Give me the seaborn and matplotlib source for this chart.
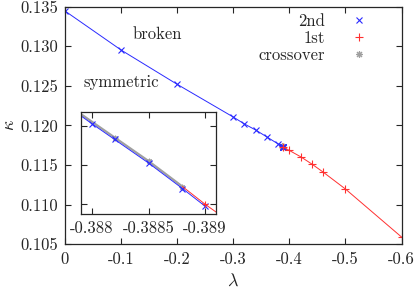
import numpy as np
import pandas as pd
import matplotlib
matplotlib.use("Agg")
import matplotlib.pyplot as plt
import seaborn as sns
from matplotlib.lines import Line2D

sns.set_style("ticks")
plt.rcParams["font.family"] = ["cmr10", "DejaVu Serif"]
plt.rcParams["mathtext.fontset"] = "cm"
plt.rcParams["axes.unicode_minus"] = False
plt.rcParams["axes.formatter.use_mathtext"] = True

# data
lam_2nd = [0.0, -0.1, -0.2, -0.3, -0.32, -0.34, -0.36, -0.38,
           -0.388, -0.3882, -0.3885, -0.3888, -0.389]
kap_2nd = [0.13446, 0.12953, 0.12520, 0.12107, 0.12019, 0.11943, 0.11855, 0.11767,
           0.117341, 0.117333, 0.117321, 0.117308, 0.117299]

# first point of the 1st-order line is where it leaves the crossover line (no marker)
lam_1st = [-0.3888, -0.389, -0.4, -0.42, -0.44, -0.46, -0.5, -0.6]
kap_1st = [0.117309, 0.117300, 0.11685, 0.11606, 0.11514, 0.11413, 0.11198, 0.10592]

lam_cross = [-0.3875, -0.3882, -0.3885, -0.3888]
kap_cross = [0.117362, 0.117334, 0.117322, 0.117309]

main_xticks = [0, -0.1, -0.2, -0.3, -0.4, -0.5, -0.6]
main_xlabels = ["0", "-0.1", "-0.2", "-0.3", "-0.4", "-0.5", "-0.6"]
main_yticks = [0.105, 0.110, 0.115, 0.120, 0.125, 0.130, 0.135]
main_ylabels = ["0.105", "0.110", "0.115", "0.120", "0.125", "0.130", "0.135"]
inset_xticks = [-0.388, -0.3885, -0.389]
inset_xlabels = ["-0.388", "-0.3885", "-0.389"]
inset_yticks = [0.11730, 0.11732, 0.11734]

df2 = pd.DataFrame({"lam": lam_2nd, "kap": kap_2nd})
df1 = pd.DataFrame({"lam": lam_1st, "kap": kap_1st})
dfc = pd.DataFrame({"lam": lam_cross, "kap": kap_cross})

blue = "#2a2aff"
red = "#ff3030"
gray = "#a0a0a0"
fs = 12

fig = plt.figure(figsize=(4.15, 2.9), dpi=100)
ax = fig.add_axes([0.1566, 0.1576, 0.8109, 0.8193])


def draw(a, ms):
    sns.lineplot(data=dfc, x="lam", y="kap", ax=a, color=gray, lw=1.6, sort=False,
                 marker=(8, 2, 0), ms=ms, mew=0.8, mec=gray)
    sns.lineplot(data=df2, x="lam", y="kap", ax=a, color=blue, lw=0.7, sort=False,
                 marker="x", ms=ms, mew=0.8, mec=blue)
    sns.lineplot(data=df1, x="lam", y="kap", ax=a, color=red, lw=0.7, sort=False,
                 marker="+", ms=ms + 1, mew=0.8, mec=red,
                 markevery=list(range(1, len(lam_1st))))


draw(ax, 5)
ax.set_xlim(0, -0.6)
ax.set_ylim(0.105, 0.135)
ax.set_xticks(main_xticks, main_xlabels)
ax.set_yticks(main_yticks, main_ylabels)
ax.tick_params(direction="in", length=4.5, width=0.8, top=True, right=True,
               labelsize=fs, pad=5)
for s in ax.spines.values():
    s.set_linewidth(0.9)
ax.set_xlabel(r"$\lambda$", fontsize=fs + 1, labelpad=4)
ax.set_ylabel(r"$\kappa$", fontsize=fs + 1, labelpad=2)

ax.text(-0.164, 0.13155, "broken", fontsize=fs, ha="center", va="center")
ax.text(-0.1, 0.12548, "symmetric", fontsize=fs, ha="center", va="center")

handles = [
    Line2D([], [], ls="none", marker="x", color=blue, ms=5, mew=0.8),
    Line2D([], [], ls="none", marker="+", color=red, ms=6, mew=0.8),
    Line2D([], [], ls="none", marker=(8, 2, 0), color=gray, ms=5, mew=0.8),
]
ax.legend(handles, ["2nd", "1st", "crossover"], loc="upper right",
          bbox_to_anchor=(0.897, 0.972), frameon=False, markerfirst=False,
          handlelength=1.0, handletextpad=1.5, labelspacing=0.1,
          borderpad=0, borderaxespad=0, fontsize=fs)

ins = fig.add_axes([0.1945, 0.262, 0.326, 0.3518])
draw(ins, 4)
ins.set_xlim(-0.3879, -0.389097)
ins.set_ylim(0.117295, 0.117347)
ins.set_xticks(inset_xticks, inset_xlabels)
ins.set_yticks(inset_yticks, [])
ins.tick_params(direction="in", length=4.5, width=0.8, top=True, right=True,
                labelsize=fs, pad=5)
for s in ins.spines.values():
    s.set_linewidth(0.9)
ins.set_xlabel("")
ins.set_ylabel("")

fig.savefig("out.png", dpi=100)
